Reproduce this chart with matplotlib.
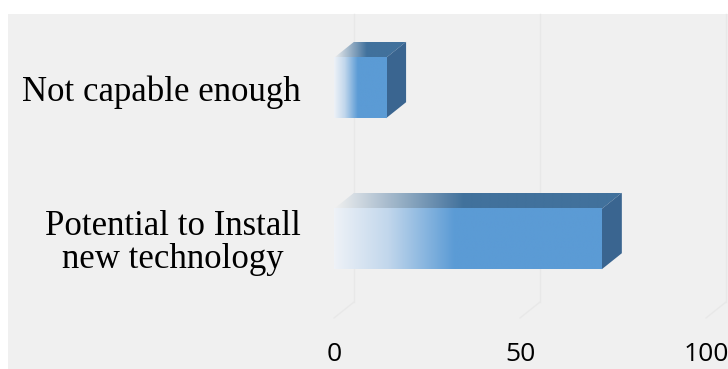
import numpy as np
import matplotlib
matplotlib.use("Agg")
import matplotlib.pyplot as plt
from matplotlib.colors import LinearSegmentedColormap
from matplotlib.patches import Polygon, Rectangle

# datos del grafico
categorias = ["Potential to Install\nnew technology", "Not capable enough"]
valores = [72, 14]
ticks_x = [0, 50, 100]

# colores
fondo = "#f0f0f0"
azul = "#5b9bd5"
azul_techo = "#41719c"
azul_lado = "#3a6590"
rejilla = "#e8e8e8"

W, H = 728, 369
fig = plt.figure(figsize=(W / 100, H / 100), dpi=100)
fig.patch.set_facecolor("white")
# area gris del grafico
fig.patches.append(Rectangle((8 / W, 0), 1, (H - 14) / H, transform=fig.transFigure,
                             facecolor=fondo, edgecolor="none", zorder=-5))

# ejes: x=0 en px 334, x=100 en px 706; base en px 318, techo en px 14
ax = fig.add_axes([334 / W, (H - 318) / H, (706 - 334) / W, (318 - 14) / H])
ax.set_facecolor("none")
xmin, xmax = 0, 100
ymin, ymax = -0.523, 1.49
alto = 0.4  # alto de cada barra

# profundidad 3D en unidades de datos (20 px a la derecha, 16 px hacia arriba)
px_x = (706 - 334) / (xmax - xmin)
px_y = (318 - 14) / (ymax - ymin)
dx = 20 / px_x
dy = 16 / px_y

# rejilla de la pared del fondo y del piso
for t in ticks_x:
    ax.plot([t + dx, t + dx], [ymin + dy, ymax], color=rejilla, lw=1, zorder=1, clip_on=False)
    ax.plot([t, t + dx], [ymin, ymin + dy], color=rejilla, lw=1, zorder=1, clip_on=False)

cmap_frente = LinearSegmentedColormap.from_list(
    "frente", [(0, "#eef2f7"), (0.2, "#c2d7ec"), (0.45, azul), (1, azul)])
cmap_techo = LinearSegmentedColormap.from_list(
    "techo", [(0, fondo), (0.45, azul_techo), (1, azul_techo)])
grad = np.linspace(0, 1, 256).reshape(1, -1)

for i, v in enumerate(valores):
    y0 = i - alto / 2
    y1 = i + alto / 2
    # cara frontal con degradado
    ax.imshow(grad, cmap=cmap_frente, extent=[0, v, y0, y1], aspect="auto",
              interpolation="bilinear", zorder=3, clip_on=False)
    # cara superior
    techo = Polygon([(0, y1), (v, y1), (v + dx, y1 + dy), (dx, y1 + dy)],
                    closed=True, facecolor="none", edgecolor="none")
    ax.add_patch(techo)
    im = ax.imshow(grad, cmap=cmap_techo, extent=[0, v + dx, y1, y1 + dy], aspect="auto",
                   interpolation="bilinear", zorder=2)
    im.set_clip_path(techo)
    # cara lateral derecha
    ax.add_patch(Polygon([(v, y0), (v, y1), (v + dx, y1 + dy), (v + dx, y0 + dy)],
                         closed=True, facecolor=azul_lado, edgecolor="none", zorder=2,
                         clip_on=False))

ax.set_xlim(xmin, xmax)
ax.set_ylim(ymin, ymax)
for s in ax.spines.values():
    s.set_visible(False)

ax.set_xticks(ticks_x)
ax.set_xticklabels([str(t) for t in ticks_x], fontfamily="Open Sans", fontsize=19)
ax.set_yticks(range(len(categorias)))
ax.set_yticklabels(categorias, fontfamily="Liberation Serif", fontsize=25)
for lab in ax.get_yticklabels():
    lab.set_multialignment("center")
    lab.set_linespacing(1.0)
ax.tick_params(axis="both", length=0)
ax.tick_params(axis="x", pad=17)
ax.tick_params(axis="y", pad=24)

fig.savefig("out.png", dpi=100, facecolor=fig.get_facecolor())
